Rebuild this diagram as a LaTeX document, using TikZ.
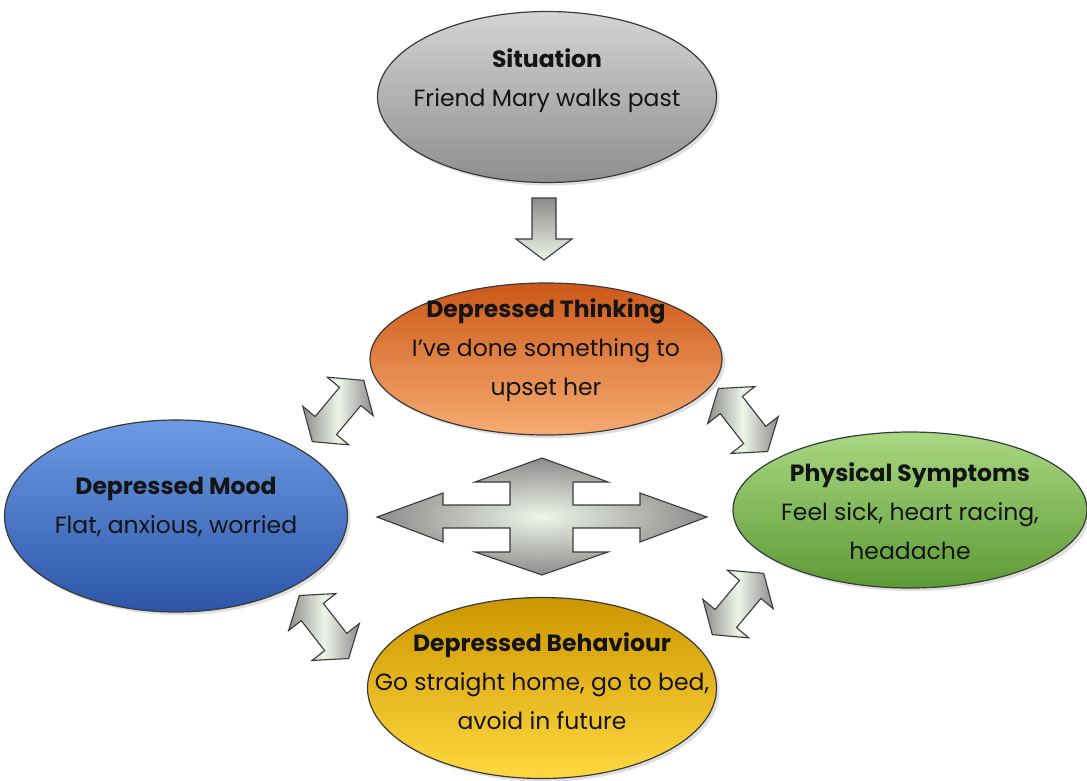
\documentclass[tikz,border=0pt]{standalone}
\usepackage{fontspec}
\setmainfont{Poppins}
\usepackage{tikz}
\usetikzlibrary{shapes.geometric,shadows}
\definecolor{TextDark}{HTML}{141414}
\definecolor{Edge}{HTML}{3A3A3A}
\definecolor{ArrGray}{HTML}{8C8C8C}
\definecolor{ArrLight}{HTML}{EEF5E8}
\definecolor{SitTop}{HTML}{D4D4D4}
\definecolor{SitBot}{HTML}{8E8E8E}
\definecolor{ThinkTop}{HTML}{CC5818}
\definecolor{ThinkBot}{HTML}{F6AC72}
\definecolor{MoodTop}{HTML}{6C9BE4}
\definecolor{MoodBot}{HTML}{2C55A8}
\definecolor{PhysTop}{HTML}{A9D882}
\definecolor{PhysBot}{HTML}{5C9A35}
\definecolor{BehTop}{HTML}{CC9600}
\definecolor{BehBot}{HTML}{FFD840}

\begin{document}
\begin{tikzpicture}[x=1pt, y=-1pt,
    bubble/.style={ellipse, draw=Edge, line width=1.2pt, inner sep=0pt,
        drop shadow={opacity=0.25, shadow xshift=3pt, shadow yshift=-3pt}},
    bubbletext/.style={align=center, text=TextDark,
        font=\fontsize{23.5}{39}\selectfont},
    arrowbody/.style={draw=Edge, line width=1.1pt, line join=miter},
    pics/dblarrow/.style={code={
        \draw[arrowbody, left color=ArrGray, right color=ArrGray, middle color=ArrLight]
            (-40,0) -- (-19,30) -- (-19,14) -- (19,14) -- (19,30) -- (40,0)
            -- (19,-30) -- (19,-14) -- (-19,-14) -- (-19,-30) -- cycle;
    }}]
    \useasboundingbox (0,0) rectangle (1087,780);

    % Situation
    \node[bubble, minimum width=339pt, minimum height=171pt, top color=SitTop, bottom color=SitBot] (sit) at (547,97) {};
    \node[bubbletext] (sit-txt) at (547,81) {\textbf{Situation}\\Friend Mary walks past};

    % Down arrow
    \draw[arrowbody, top color=ArrGray, bottom color=ArrLight]
        (532,198) -- (556,198) -- (556,239) -- (572,239) -- (544,260) -- (516,239) -- (532,239) -- cycle;

    % Depressed thinking
    \node[bubble, minimum width=352pt, minimum height=152pt, top color=ThinkTop, bottom color=ThinkBot] (think) at (546,359) {};
    \node[bubbletext] (think-txt) at (546,350) {\textbf{Depressed Thinking}\\I've done something to\\upset her};

    % Depressed mood
    \node[bubble, minimum width=343pt, minimum height=192pt, top color=MoodTop, bottom color=MoodBot] (mood) at (176,516) {};
    \node[bubbletext] (mood-txt) at (176,507) {\textbf{Depressed Mood}\\Flat, anxious, worried};

    % Physical symptoms
    \node[bubble, minimum width=354pt, minimum height=156pt, top color=PhysTop, bottom color=PhysBot] (phys) at (910,510) {};
    \node[bubbletext] (phys-txt) at (910,511) {\textbf{Physical Symptoms}\\Feel sick, heart racing,\\headache};

    % Depressed behaviour
    \node[bubble, minimum width=349pt, minimum height=181pt, top color=BehTop, bottom color=BehBot] (behav) at (542,688) {};
    \node[bubbletext] (behav-txt) at (542,681) {\textbf{Depressed Behaviour}\\Go straight home, go to bed,\\avoid in future};

    % Centre four-way arrow
    \draw[arrowbody, inner color=ArrLight, outer color=ArrGray]
        (542,458) -- (608,482) -- (573,482) -- (573,505) -- (640,505) -- (640,493)
        -- (707,517) -- (640,542) -- (640,528) -- (573,528) -- (573,552) -- (608,552)
        -- (542,575) -- (475,552) -- (510,552) -- (510,528) -- (443,528) -- (443,542)
        -- (377,517) -- (443,493) -- (443,505) -- (510,505) -- (510,482) -- (475,482) -- cycle;

    % Diagonal two-way arrows
    \pic[rotate=50] at (338,411) {dblarrow};
    \pic[rotate=-52] at (743,420) {dblarrow};
    \pic[rotate=-52] at (324,627) {dblarrow};
    \pic[rotate=50] at (738,604) {dblarrow};
\end{tikzpicture}
\end{document}
